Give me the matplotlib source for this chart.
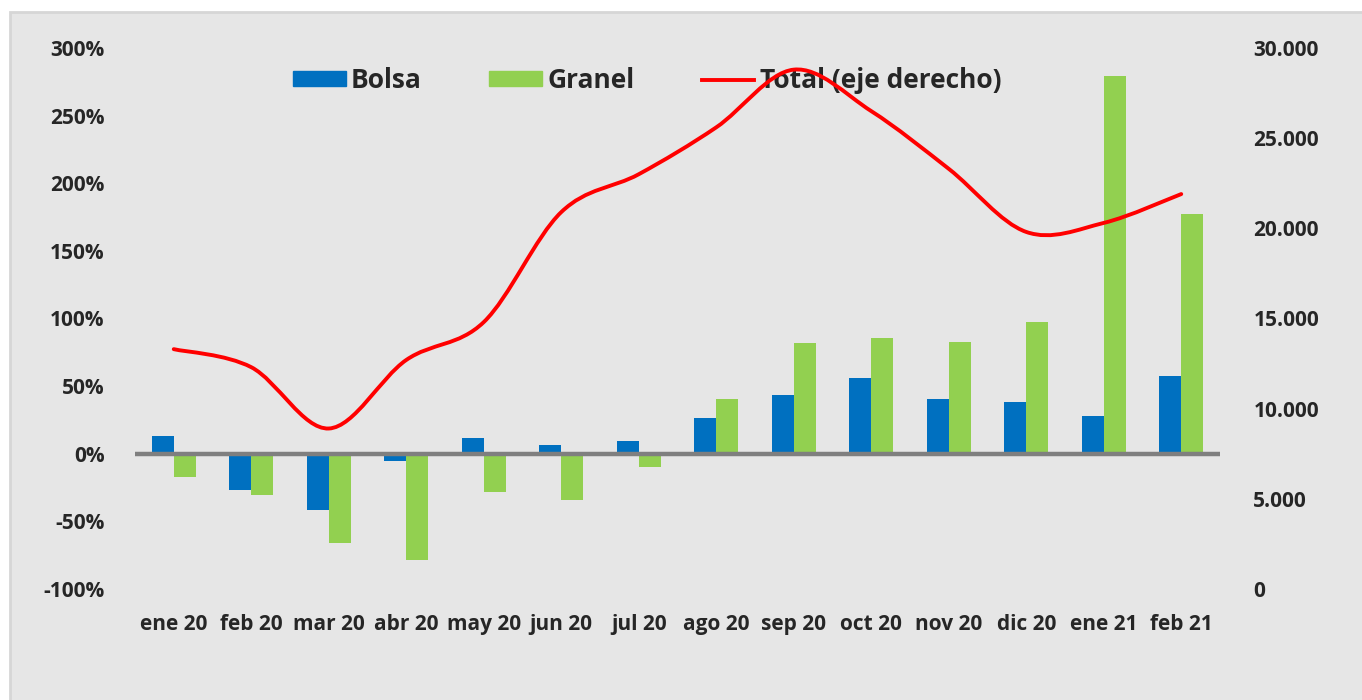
import matplotlib.pyplot as plt
import numpy as np
from matplotlib.path import Path
from matplotlib.patches import PathPatch, Rectangle
from matplotlib.lines import Line2D
from matplotlib.ticker import FuncFormatter

plt.rcParams['font.family'] = ['Open Sans', 'DejaVu Sans']
plt.rcParams['font.weight'] = 'bold'

meses = ["ene 20", "feb 20", "mar 20", "abr 20", "may 20", "jun 20", "jul 20",
         "ago 20", "sep 20", "oct 20", "nov 20", "dic 20", "ene 21", "feb 21"]
bolsa = [13, -27, -41.5, -5, 11.6, 6.4, 9.4, 26.6, 43.6, 56.2, 40.4, 38.2, 28.1, 57.4]
granel = [-17, -30.5, -66, -78.5, -28, -34.5, -9.6, 40.4, 81.8, 85.7, 82.6, 97.6, 279, 177.6]
total = [13300, 12300, 8900, 12700, 14800, 20900, 23000, 25600, 28800, 26500, 23300, 19800, 20300, 21900]

azul = "#0070C0"
verde = "#92D050"
rojo = "#FF0000"
texto = "#262626"

fig = plt.figure(figsize=(13.62, 7.0), dpi=100, facecolor="white")
# panel gris de fondo
fondo = Rectangle((10 / 1362, -0.01), 1.02, 1 - 12 / 700 + 0.01,
                  transform=fig.transFigure, facecolor="#e6e6e6",
                  edgecolor="#d6d6d6", linewidth=2, zorder=-10)
fig.add_artist(fondo)

ax = fig.add_axes([135 / 1362, 1 - 589 / 700, 1085 / 1362, 541 / 700])
ax.set_facecolor("none")
x = np.arange(len(meses))
w = 0.285
ax.bar(x - w / 2, bolsa, w, color=azul, label="Bolsa", zorder=2)
ax.bar(x + w / 2, granel, w, color=verde, label="Granel", zorder=2)
ax.axhline(0, color="#7f7f7f", linewidth=3.2, zorder=3)

ax.set_xlim(-0.5, len(meses) - 0.5)
ax.set_ylim(-100, 300)
ax.set_yticks(range(-100, 301, 50))
ax.yaxis.set_major_formatter(FuncFormatter(lambda v, p: f"{v:.0f}%"))
ax.set_xticks(x)
ax.set_xticklabels(meses)
for s in ax.spines.values():
    s.set_visible(False)
ax.tick_params(axis="both", length=0, labelsize=15, colors=texto)
ax.tick_params(axis="y", pad=22)
ax.tick_params(axis="x", pad=18)

# eje derecho: linea suavizada (curvas de Bezier tipo Excel)
ax2 = ax.twinx()
ax2.set_facecolor("none")
ax2.set_ylim(0, 30000)
ax2.set_yticks(range(0, 30001, 5000))
ax2.yaxis.set_major_formatter(FuncFormatter(lambda v, p: f"{v:,.0f}".replace(",", ".")))
for s in ax2.spines.values():
    s.set_visible(False)
ax2.tick_params(axis="y", length=0, labelsize=15, colors=texto, pad=24)

pts = np.column_stack([x, total]).astype(float)
verts = [pts[0]]
codes = [Path.MOVETO]
n = len(pts)
for i in range(n - 1):
    p0 = pts[max(i - 1, 0)]
    p1 = pts[i]
    p2 = pts[i + 1]
    p3 = pts[min(i + 2, n - 1)]
    verts += [p1 + (p2 - p0) / 6, p2 - (p3 - p1) / 6, p2]
    codes += [Path.CURVE4] * 3
ax2.add_patch(PathPatch(Path(verts, codes), fill=False, edgecolor=rojo,
                        linewidth=2.8, capstyle="round", zorder=6))

handles = [Rectangle((0, 0), 1, 1, color=azul), Rectangle((0, 0), 1, 1, color=verde),
           Line2D([], [], color=rojo, linewidth=2.8)]
leg = ax2.legend(handles, ["Bolsa", "Granel", "Total (eje derecho)"], ncol=3,
                 loc="center", bbox_to_anchor=(0.472, 0.94), frameon=False,
                 fontsize=19, handlelength=2.0, handleheight=0.5,
                 handletextpad=0.2, columnspacing=2.55)
leg.set_zorder(5)
for t in leg.get_texts():
    t.set_color(texto)

fig.savefig("out.png", dpi=100, facecolor="white")
